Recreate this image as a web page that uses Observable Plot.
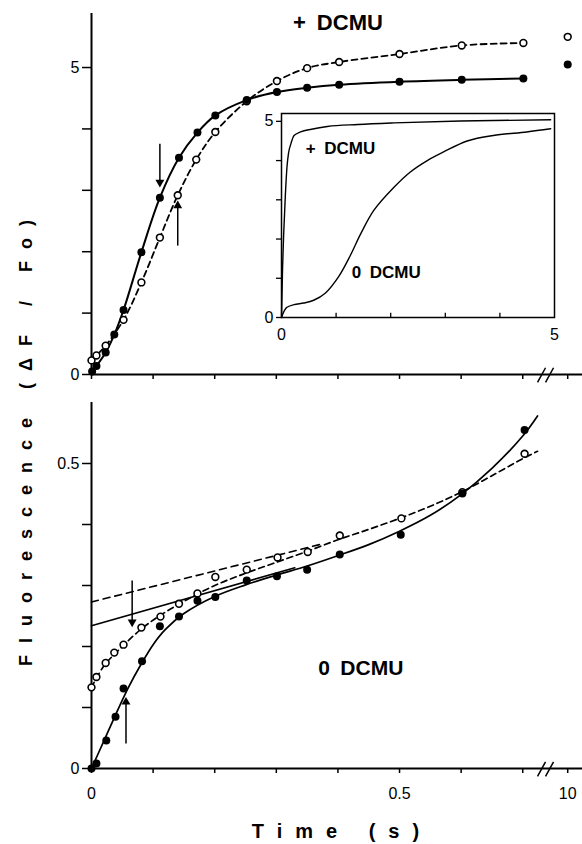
<!DOCTYPE html>
<html><head><meta charset="utf-8">
<script src="https://cdn.jsdelivr.net/npm/d3@7"></script>
<script src="https://cdn.jsdelivr.net/npm/@observablehq/plot@0.6"></script>
<style>
body{margin:0;background:#fff;}
#wrap{position:relative;width:582px;height:844px;overflow:hidden;font-family:"Liberation Sans",Arial,sans-serif;color:#000;}
#wrap > div{position:absolute;}
</style></head><body><div id="wrap"></div>
<script>
// ---------- data ----------
// Top panel (+ DCMU): time (s) and ΔF/Fo; last value is at 10 s (beyond axis break)
const topFilledT = [0.001,0.008,0.023,0.037,0.052,0.081,0.111,0.142,0.172,0.201,0.252,0.301,0.350,0.402,0.500,0.601,0.701,10];
const topFilledF = [0.05,0.14,0.36,0.65,1.05,1.99,2.88,3.53,3.94,4.22,4.47,4.60,4.67,4.72,4.77,4.80,4.82,5.05];
const topOpenT   = [0,0.008,0.023,0.052,0.081,0.111,0.140,0.170,0.201,0.252,0.301,0.350,0.402,0.500,0.601,0.701,10];
const topOpenF   = [0.23,0.31,0.47,0.89,1.50,2.23,2.92,3.50,3.95,4.45,4.78,4.99,5.09,5.22,5.36,5.40,5.50];

// Bottom panel (0 DCMU)
const botFilledT = [0,0.008,0.024,0.039,0.052,0.082,0.111,0.142,0.172,0.201,0.252,0.301,0.350,0.403,0.502,0.602,0.703];
const botFilledF = [0,0.008,0.046,0.085,0.131,0.176,0.233,0.249,0.275,0.281,0.308,0.315,0.326,0.351,0.383,0.451,0.555];
const botOpenT   = [0,0.008,0.023,0.037,0.052,0.081,0.112,0.142,0.172,0.201,0.252,0.302,0.351,0.403,0.503,0.602,0.703];
const botOpenF   = [0.133,0.150,0.173,0.190,0.203,0.231,0.249,0.270,0.287,0.314,0.326,0.346,0.355,0.382,0.410,0.453,0.516];
// fitted curves drawn in the bottom panel
const fitSolidT  = [0,0.02,0.04,0.06,0.08,0.10,0.12,0.15,0.20,0.25,0.30,0.35,0.40,0.45,0.50,0.55,0.60,0.65,0.70,0.724];
const fitSolidF  = [0,0.045,0.09,0.133,0.17,0.203,0.228,0.254,0.282,0.301,0.317,0.332,0.349,0.367,0.389,0.415,0.449,0.492,0.545,0.578];
const fitDashT   = [0,0.02,0.05,0.08,0.11,0.15,0.20,0.25,0.30,0.35,0.40,0.45,0.50,0.55,0.60,0.65,0.70,0.724];
const fitDashF   = [0.133,0.168,0.200,0.228,0.250,0.274,0.300,0.320,0.338,0.356,0.375,0.392,0.410,0.430,0.453,0.480,0.508,0.520];
// initial-slope straight lines (bottom panel)
const tanSolidT = [0,0.33];  const tanSolidF = [0.234,0.329];
const tanDashT  = [0,0.37];  const tanDashF  = [0.273,0.367];

// Inset: full traces over 5 s
const insetPlusT = [0,0.02,0.04,0.07,0.10,0.13,0.17,0.23,0.35,0.55,0.84,1.4,2.06,3.28,4.93];
const insetPlusF = [0,1.28,2.13,3.10,3.83,4.20,4.42,4.64,4.73,4.80,4.87,4.92,4.96,5.01,5.04];
const insetZeroT = [0,0.05,0.10,0.23,0.41,0.59,0.80,1.05,1.26,1.45,1.69,2.06,2.36,2.67,2.97,3.40,3.88,4.49,4.93];
const insetZeroF = [0,0.17,0.26,0.33,0.37,0.44,0.62,1.05,1.58,2.13,2.73,3.32,3.71,4.00,4.22,4.50,4.64,4.73,4.81];

// ticks
const xTickValues = [0,0.1,0.2,0.3,0.4,0.5,0.6,0.7,10];
const xTickLabels = ["0","","","","","0.5","","","10"];
const topYTicks = [0,1,2,3,4,5];
const topYLabels = ["0","","","","","5"];
const botYTicks = [0,0.1,0.2,0.3,0.4,0.5];
const botYLabels = ["0","","","","","0.5"];
const insetTicks = [0,1,2,3,4,5];
const insetLabels = ["0","","","","","5"];

// ---------- helpers ----------
const BREAK_POS = 0.773;          // axis position where 10 s is drawn (broken axis)
const XMAX = 0.797;
const xPos = t => t > 1 ? BREAK_POS : t;
const zip = (T, F) => T.map((t, i) => ({t, f: F[i]}));
const xTickPos = xTickValues.map(xPos);
const fmtFrom = (vals, labs) => v => { const i = vals.indexOf(v); return i < 0 ? "" : labs[i]; };
const FONT = "'Liberation Sans', Arial, sans-serif";
const baseStyle = {fontFamily: FONT, fontSize: "16px", background: "transparent", overflow: "visible", color: "black"};

function arrowMarks(arrows, headOffset) {
  return [
    Plot.link(arrows, {x1: "x", x2: "x", y1: "y1", y2: d => d.y2 + (d.y2 < d.y1 ? headOffset : -headOffset), stroke: "black", strokeWidth: 1.5}),
    Plot.dot(arrows, {x: "x", y: d => d.y2 + (d.y2 < d.y1 ? headOffset : -headOffset), symbol: "triangle", r: 3.3, fill: "black",
      rotate: d => d.y2 < d.y1 ? 180 : 0})
  ];
}

const wrap = document.getElementById("wrap");
function place(el, left, top) {
  const d = document.createElement("div");
  d.style.left = left + "px"; d.style.top = top + "px";
  d.appendChild(el); wrap.appendChild(d); return d;
}

// ---------- top panel ----------
const topFilled = zip(topFilledT, topFilledF);
const topOpen = zip(topOpenT, topOpenF);
const TOPMAX = 5.88;
const topPlot = Plot.plot({
  width: 582, height: 390, marginLeft: 91, marginRight: 0, marginTop: 13, marginBottom: 16,
  x: {domain: [0, XMAX]}, y: {domain: [0, TOPMAX]},
  style: baseStyle,
  marks: [
    Plot.ruleY([0], {x1: 0, x2: XMAX, strokeWidth: 2}),
    Plot.ruleX([0], {y1: 0, y2: TOPMAX, strokeWidth: 2}),
    Plot.axisY({ticks: topYTicks, tickSize: 9, tickPadding: 3, tickFormat: fmtFrom(topYTicks, topYLabels), fontSize: 16, strokeWidth: 1.5, label: null}),
    Plot.axisX({ticks: xTickPos, tickSize: 5, tickFormat: () => "", strokeWidth: 1.5, label: null}),
    Plot.link([0, 0.013], {x1: d => 0.724 + d, x2: d => 0.737 + d, y1: -0.13, y2: 0.11, strokeWidth: 1.5}),
    Plot.line(topOpen.filter(d => d.t < 1), {x: "t", y: "f", curve: "catmull-rom", strokeDasharray: "6,4", strokeWidth: 1.8}),
    Plot.line(topFilled.filter(d => d.t < 1), {x: "t", y: "f", curve: "catmull-rom", strokeWidth: 2}),
    Plot.dot(topOpen, {x: d => xPos(d.t), y: "f", r: 3.4, fill: "white", stroke: "black", strokeWidth: 1.6}),
    Plot.dot(topFilled, {x: d => xPos(d.t), y: "f", r: 4, fill: "black"}),
    ...arrowMarks([{x: 0.111, y1: 3.76, y2: 3.05}, {x: 0.140, y1: 2.10, y2: 2.83}], 0.08),
    Plot.text(["+\u2002DCMU"], {x: 0.40, y: 5.72, text: d => d, fontSize: 22, fontWeight: "bold"})
  ]
});
place(topPlot, 0, 0);

// ---------- bottom panel ----------
const botFilled = zip(botFilledT, botFilledF);
const botOpen = zip(botOpenT, botOpenF);
const BOTMAX = 0.6;
const botPlot = Plot.plot({
  width: 582, height: 454, marginLeft: 91, marginRight: 0, marginTop: 12, marginBottom: 76,
  x: {domain: [0, XMAX]}, y: {domain: [0, BOTMAX]},
  style: baseStyle,
  marks: [
    Plot.ruleY([0], {x1: 0, x2: XMAX, strokeWidth: 2}),
    Plot.ruleX([0], {y1: 0, y2: BOTMAX, strokeWidth: 2}),
    Plot.axisY({ticks: botYTicks, tickSize: 9, tickPadding: 3, tickFormat: fmtFrom(botYTicks, botYLabels), fontSize: 16, strokeWidth: 1.5, label: null}),
    Plot.axisX({ticks: xTickPos, tickSize: 5, tickPadding: 14, tickFormat: fmtFrom(xTickPos, xTickLabels), fontSize: 16, strokeWidth: 1.5, label: null}),
    Plot.link([0, 0.013], {x1: d => 0.724 + d, x2: d => 0.737 + d, y1: -0.013, y2: 0.011, strokeWidth: 1.5}),
    Plot.line(zip(tanDashT, tanDashF), {x: "t", y: "f", strokeDasharray: "7,5", strokeWidth: 1.6}),
    Plot.line(zip(tanSolidT, tanSolidF), {x: "t", y: "f", strokeWidth: 1.6}),
    Plot.line(zip(fitDashT, fitDashF), {x: "t", y: "f", curve: "catmull-rom", strokeDasharray: "6,4", strokeWidth: 1.7}),
    Plot.line(zip(fitSolidT, fitSolidF), {x: "t", y: "f", curve: "catmull-rom", strokeWidth: 1.7}),
    Plot.dot(botOpen, {x: "t", y: "f", r: 3.4, fill: "white", stroke: "black", strokeWidth: 1.6}),
    Plot.dot(botFilled, {x: "t", y: "f", r: 4, fill: "black"}),
    ...arrowMarks([{x: 0.066, y1: 0.308, y2: 0.232}, {x: 0.056, y1: 0.041, y2: 0.117}], 0.008),
    Plot.text(["0\u2002DCMU"], {x: 0.437, y: 0.164, text: d => d, fontSize: 21, fontWeight: "bold"})
  ]
});
place(botPlot, 0, 390);

// ---------- inset ----------
const IMAXY = 5.2;
const insetPlot = Plot.plot({
  width: 330, height: 250, marginLeft: 41, marginRight: 16, marginTop: 13, marginBottom: 33,
  x: {domain: [0, 5]}, y: {domain: [0, IMAXY]},
  style: baseStyle,
  marks: [
    Plot.frame({fill: "white", stroke: "none"}),
    Plot.axisY({ticks: insetTicks, tickSize: 5, tickPadding: 3, tickFormat: fmtFrom(insetTicks, insetLabels), fontSize: 16, strokeWidth: 1.3, label: null}),
    Plot.axisX({ticks: insetTicks, tickSize: 0, tickPadding: 11, tickFormat: fmtFrom(insetTicks, insetLabels), fontSize: 16, label: null}),
    Plot.ruleX(insetTicks.slice(1, 5), {y1: 0, y2: 0.11, strokeWidth: 1.3}),
    Plot.frame({stroke: "black", strokeWidth: 1.5}),
    Plot.line(zip(insetPlusT, insetPlusF), {x: "t", y: "f", curve: "monotone-x", strokeWidth: 1.4}),
    Plot.line(zip(insetZeroT, insetZeroF), {x: "t", y: "f", curve: "catmull-rom", strokeWidth: 1.4}),
    Plot.text(["+\u2002DCMU"], {x: 1.08, y: 4.31, text: d => d, fontSize: 17, fontWeight: "bold"}),
    Plot.text(["0\u2002DCMU"], {x: 1.92, y: 1.15, text: d => d, fontSize: 17, fontWeight: "bold"})
  ]
});
place(insetPlot, 240, 100);

// ---------- axis titles ----------
const yLab = document.createElement("div");
yLab.textContent = "Fluorescence (\u0394F / Fo)";
Object.assign(yLab.style, {width: "600px", textAlign: "center", fontFamily: FONT, fontWeight: "bold", fontSize: "18px",
  letterSpacing: "12px", lineHeight: "24px", transform: "rotate(-90deg)", transformOrigin: "300px 12px", whiteSpace: "nowrap"});
place(yLab, 20 - 300 + 6, 437 - 12);

const xLab = document.createElement("div");
xLab.textContent = "Time (s)";
Object.assign(xLab.style, {width: "300px", textAlign: "center", fontFamily: FONT, fontWeight: "bold", fontSize: "20px",
  letterSpacing: "13px", lineHeight: "24px", whiteSpace: "nowrap"});
place(xLab, 336 - 150 + 6, 819);
</script>
</body></html>
